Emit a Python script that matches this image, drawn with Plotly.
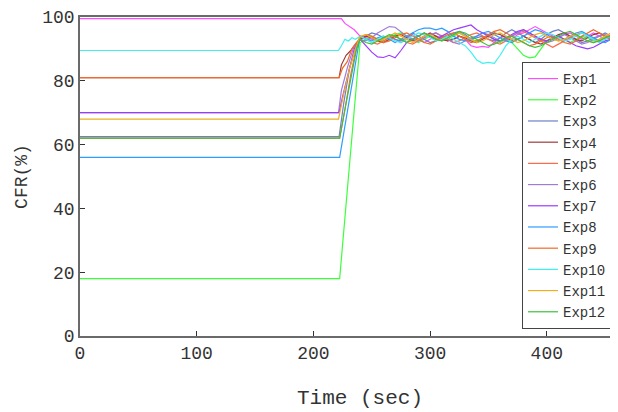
import plotly.graph_objects as go

# ---- data -------------------------------------------------------------
NAMES = ["Exp1", "Exp2", "Exp3", "Exp4", "Exp5", "Exp6",
         "Exp7", "Exp8", "Exp9", "Exp10", "Exp11", "Exp12"]
COLORS = ["#ff4cff", "#3cff3c", "#6f7fc8", "#9c3a3a", "#ff6a4a", "#a07ad8",
          "#9a3cff", "#2f9cff", "#f06a2a", "#40f0f0", "#f0ae1e", "#3cbf3c"]

# flat starting level of every experiment (t = 0 .. ramp start)
START_LEVEL = [99.5, 18.0, 62.5, 81.0, 62.0, 70.0, 70.0, 56.0, 81.0, 89.5, 68.0, 62.0]

# ramp (transition) points per experiment: times and values
RAMP_T = [
    [224, 227, 231, 235],
    [222.5],
    [222, 226, 231, 236],
    [222, 224, 228, 232, 236],
    [222.5, 227, 232, 236],
    [221.5, 224, 229, 234],
    [222, 225, 230, 235],
    [222.5, 228, 233, 237],
    [222, 225, 229, 233],
    [221.5, 224, 227, 230, 233, 236],
    [221.5, 226, 231, 236],
    [222.5, 227, 232, 237],
]
RAMP_V = [
    [99.5, 98.0, 97.0, 96.0],
    [18.0],
    [62.5, 73.0, 84.0, 90.0],
    [81.0, 85.0, 88.0, 89.5, 91.5],
    [62.0, 71.0, 82.0, 89.0],
    [70.0, 77.0, 84.0, 90.0],
    [70.0, 75.0, 83.0, 90.0],
    [56.0, 68.0, 79.0, 88.0],
    [81.0, 84.0, 86.0, 90.0],
    [89.5, 91.0, 93.0, 92.5, 93.5, 93.0],
    [68.0, 76.0, 84.0, 90.0],
    [62.0, 71.0, 81.0, 90.0],
]

# settled part, sampled every 5 s from 240 s to 460 s
T_POST = [240, 245, 250, 255, 260, 265, 270, 275, 280, 285, 290, 295, 300,
          305, 310, 315, 320, 325, 330, 335, 340, 345, 350, 355, 360, 365,
          370, 375, 380, 385, 390, 395, 400, 405, 410, 415, 420, 425, 430,
          435, 440, 445, 450, 455, 460]

EXP1 = [94, 93.5, 93, 92.5, 93.5, 94, 93, 92, 93, 94.5, 93, 92, 93, 94, 93.5,
        92.5, 93, 94, 93, 91, 90.5, 90.8, 90.5, 92, 93.5, 94, 93, 94.5, 95, 96,
        97, 96, 95, 94, 93.5, 94.5, 95, 94, 93, 94, 95, 94, 93, 94, 94.5]
EXP2 = [92, 93, 94, 93, 92.5, 93.5, 94.5, 95, 94, 93, 92, 93, 94, 93.5, 92.5,
        93, 94, 95, 94, 93, 92.5, 93.5, 94, 93, 92, 93, 92, 90, 88, 87.2,
        87.5, 90, 92.5, 93.5, 94, 93, 92, 93, 94, 93.5, 92.5, 93, 94, 93.5, 93]
EXP3 = [93, 94, 95, 94.5, 93.5, 94, 93, 92.5, 93.5, 95, 94, 93, 92, 92.5, 93.5,
        94, 95, 95.5, 94.5, 93, 93.5, 94, 93, 92.5, 93.5, 95, 96, 95, 94, 93,
        92, 93, 94.5, 95.5, 96, 95, 94, 93, 92, 92.5, 93.5, 94, 95, 94, 93]
EXP4 = [93, 94, 93.5, 92.5, 92, 93, 94, 94.5, 93.5, 92.5, 93, 94, 95, 94, 93,
        92.5, 93, 94, 93.5, 92.5, 92, 93, 94, 95, 94.5, 93.5, 92.5, 93, 94, 93,
        92, 91.5, 92.5, 93.5, 94.5, 95, 94, 93, 92.5, 93.5, 94.5, 95, 94, 93, 93.5]
EXP5 = [94, 93, 92, 91.5, 92.5, 93.5, 94, 93, 92, 91.5, 92.5, 93.5, 94.5, 95, 94,
        93, 92, 92.5, 93.5, 94.5, 95, 94, 93, 92, 91.5, 92.5, 94, 95, 95.5, 94.5,
        93.5, 92.5, 91.5, 90.5, 91.5, 92.5, 93.5, 94.5, 95, 94, 93, 92.5, 93.5, 94.5, 95]
EXP6 = [93, 92.5, 93.5, 95, 96, 97, 96.8, 95.5, 94, 93, 92.5, 93.5, 94.5, 95, 94,
        93, 92, 91.5, 92.5, 93.5, 94, 95, 94.5, 93.5, 92.5, 93, 94, 95, 96, 95,
        94, 93, 92, 92.5, 93.5, 94.5, 93.5, 92.5, 91.5, 92, 93, 94, 94.5, 93.5, 92.5]
EXP7 = [93, 91, 89, 87.5, 87.3, 88, 87.2, 89.5, 92, 93, 94, 95, 94, 93, 94,
        95, 96, 96.5, 97, 97.5, 96, 95, 94, 93, 92.5, 93.5, 94.5, 95.5, 96, 95,
        94, 93, 92.5, 93.5, 94, 93, 92, 91, 90.5, 90, 90.5, 91.5, 92.5, 93, 92.5]
EXP8 = [94, 93, 92.5, 93.5, 94, 93, 92, 93, 94, 95, 96, 96.5, 96.5, 96, 96.5,
        95.5, 94, 93, 92.5, 93, 94, 95, 95.5, 94.5, 93.5, 92.5, 92, 93, 94, 95,
        96, 95.5, 94.5, 93.5, 92.5, 93, 94, 95, 95.5, 94.5, 93.5, 92.5, 92, 93, 94]
EXP9 = [93.5, 94.5, 94, 93, 92, 92.5, 93.5, 94.5, 95, 94, 93, 92, 91.5, 92.5, 93.5,
        94.5, 95, 94, 93, 92, 92.5, 93.5, 94.5, 95.5, 96, 95, 94, 93, 92, 91,
        91.5, 92.5, 93.5, 94, 93, 92, 91.5, 92.5, 94, 95, 96, 95, 94, 93, 92.5]
EXP10 = [94, 93, 92, 93, 94, 93.5, 92.5, 92, 93, 94, 95, 94.5, 93.5, 92.5, 93,
         94, 93, 92, 91, 89, 86.5, 85.5, 85.8, 85.5, 88, 91, 93, 94, 93, 92,
         93, 94, 95, 94.5, 93.5, 92.5, 93, 94, 95, 94, 93, 92, 93, 94, 94.5]
EXP11 = [94, 94.5, 93.5, 92.5, 93, 94, 95, 94, 93, 92, 93, 94, 94.5, 93.5, 92.5,
         93.5, 94.5, 95, 94, 93, 92, 92.5, 93.5, 94.5, 95, 94, 93, 92, 92.5, 93.5,
         94.5, 95, 94, 93, 92.5, 93, 94, 94.5, 93.5, 92.5, 92, 93, 94, 95, 94]
EXP12 = [93, 92, 91.5, 92.5, 93.5, 94.5, 94, 93, 92, 93, 94, 95, 94, 93, 92.5,
         93.5, 94.5, 95.5, 95, 94, 93, 92, 91, 91.5, 92.5, 93.5, 94, 93, 92, 91,
         90.5, 91, 92, 93, 94, 95, 95.5, 94.5, 93.5, 92.5, 92, 92.5, 93.5, 94, 93]
POST = [EXP1, EXP2, EXP3, EXP4, EXP5, EXP6, EXP7, EXP8, EXP9, EXP10, EXP11, EXP12]

X_TICKS = [0, 100, 200, 300, 400]
Y_TICKS = [0, 20, 40, 60, 80, 100]

# ---- figure -----------------------------------------------------------
FONT = "Liberation Mono, Courier New, monospace"
fig = go.Figure()
for name, color, lvl, rt, rv, post in zip(NAMES, COLORS, START_LEVEL, RAMP_T, RAMP_V, POST):
    xs = [0] + rt + T_POST
    ys = [lvl] + rv + post
    fig.add_trace(go.Scatter(x=xs, y=ys, mode="lines", name=name,
                             line=dict(color=color, width=1.2)))

axis_common = dict(showgrid=False, zeroline=False, showline=True,
                   linecolor="#6a6a6a", linewidth=1.5, ticks="inside",
                   ticklen=5, tickcolor="#333", tickwidth=1, automargin=False,
                   tickfont=dict(family=FONT, size=18, color="#333"))
fig.update_xaxes(range=[0, 461], tickvals=X_TICKS, mirror=True, **axis_common)
fig.update_yaxes(range=[0, 100], tickvals=Y_TICKS,
                 title=dict(text="CFR(%)", font=dict(family=FONT, size=18, color="#333"),
                            standoff=10),
                 **axis_common)

# x-axis title (the original axes run past the cropped right edge, so it sits right of centre)
fig.add_annotation(text="Time (sec)", xref="paper", yref="paper", x=0.5204, y=0,
                   xanchor="center", yanchor="middle", yshift=-62, showarrow=False,
                   font=dict(family=FONT, size=21, color="#333"))

# the page body adds an 8 px offset, so the figure is 8 px smaller on each axis
fig.update_layout(
    width=610, height=404,
    margin=dict(l=72, r=0, t=9, b=76, autoexpand=False),
    plot_bgcolor="white", paper_bgcolor="white",
    font=dict(family=FONT, color="#333"),
    legend=dict(x=0.8216, y=0.859, xanchor="left", yanchor="top",
                bgcolor="white", bordercolor="#444", borderwidth=1,
                font=dict(family=FONT, size=14, color="#333"),
                tracegroupgap=0),
)

fig.write_html("out.html")
